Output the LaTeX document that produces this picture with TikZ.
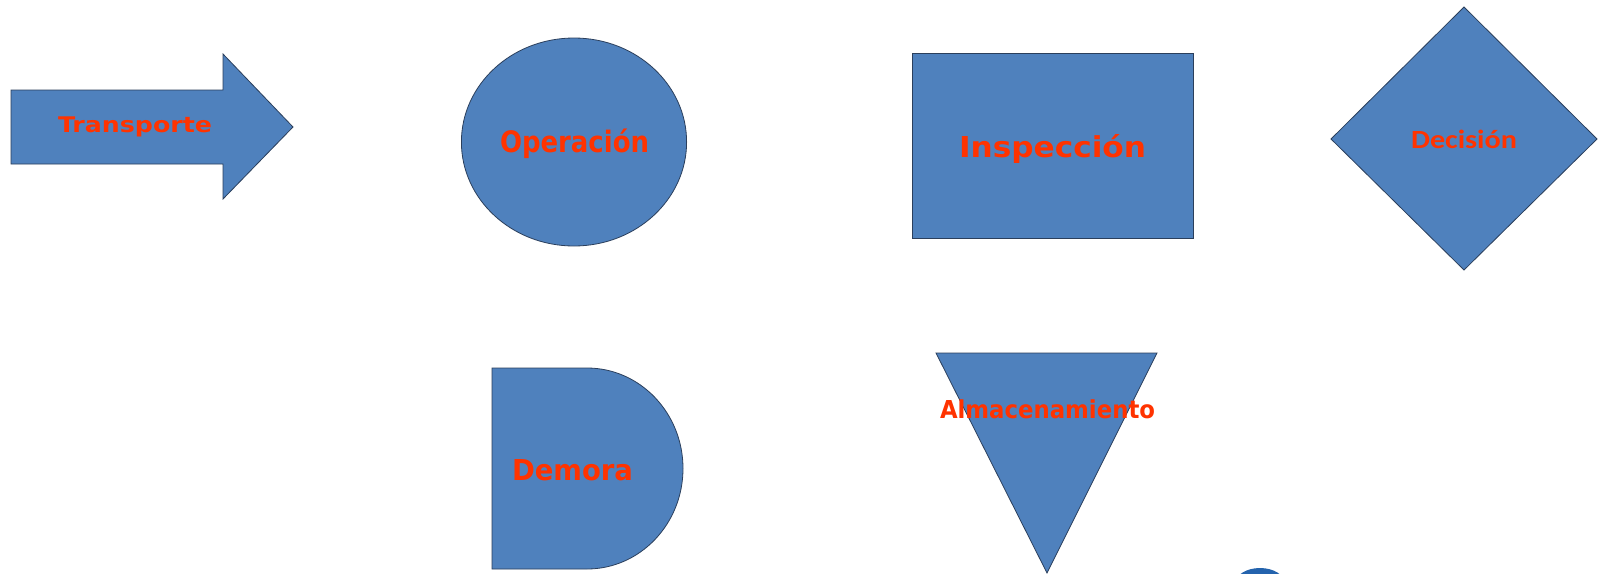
\documentclass[tikz,border=0pt]{standalone}
\usepackage{fontspec}
\setmainfont{DejaVu Sans}
\newfontfamily\calib{Carlito}
\usepackage{graphicx}
\definecolor{shapefill}{HTML}{4F81BD}
\definecolor{shapeline}{HTML}{2B3F5C}
\definecolor{lbltext}{HTML}{FF3300}
\definecolor{blobblue}{HTML}{2463AD}
\newcommand\fitlbl[3]{\resizebox{#1}{#2}{\smash{#3}\vphantom{X}}}
\tikzset{
  shapebox/.style={fill=shapefill, draw=shapeline, line width=0.8pt, line join=miter},
  lbl/.style={inner sep=0pt, outer sep=0pt, text=lbltext, font=\bfseries, anchor=base west},
}
\begin{document}
\begin{tikzpicture}[x=1pt,y=-1pt]
\useasboundingbox (0,0) rectangle (1605,573);
\fill[white] (0,0) rectangle (1605,573);
% Transporte arrow
\draw[shapebox] (11,90) -- (223,90) -- (223,54) -- (293,127) -- (223,199) -- (223,164) -- (11,164) -- cycle;
\node[lbl] (ttransp) at (58,132) {\fitlbl{154pt}{15.7pt}{Transporte}};
% Operacion ellipse
\draw[shapebox] (574,142) ellipse [x radius=112.6, y radius=104];
\node[lbl] (toper) at (500,152) {\fitlbl{149pt}{21.5pt}{Operación}};
% Inspeccion rectangle
\draw[shapebox] (912,53) rectangle (1193,238);
\node[lbl] (tinsp) at (959,157) {\fitlbl{187pt}{21pt}{Inspección}};
% Decision diamond
\draw[shapebox] (1464,7) -- (1597,139) -- (1464,270) -- (1331,139) -- cycle;
\node[lbl, font=\calib\bfseries] (tdec) at (1411,148) {\fitlbl{106pt}{17pt}{Decisión}};
% Demora shape
\draw[shapebox] (492,368) -- (587,368) arc[start angle=-90, end angle=90, x radius=96, y radius=100.5] -- (492,569) -- cycle;
\node[lbl] (tdem) at (512,480) {\fitlbl{121pt}{21pt}{Demora}};
% Almacenamiento triangle
\draw[shapebox] (936,353) -- (1157,353) -- (1047,573) -- cycle;
\node[lbl] (talm) at (940,418) {\fitlbl{215pt}{18pt}{Almacenamiento}};
% partial blue shape at bottom edge
\begin{scope}
\clip (0,0) rectangle (1605,573);
\fill[blobblue] (1260,584) ellipse [x radius=25, y radius=16];
\end{scope}
\end{tikzpicture}
\end{document}
